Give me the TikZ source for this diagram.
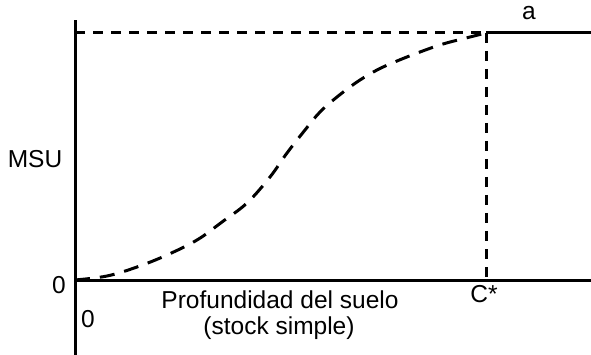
\documentclass[tikz,border=0pt]{standalone}
\usepackage{fontspec}
\setmainfont{Liberation Sans}
\usetikzlibrary{positioning}

\begin{document}
\begin{tikzpicture}[x=1pt, y=-1pt]
		% Definición de estilos
		\tikzstyle{eje} = [draw, line width=3pt]
		\tikzstyle{guia} = [draw, line width=3pt, dash pattern=on 10pt off 8pt]
		\tikzstyle{curva} = [draw, line width=3pt, dash pattern=on 15pt off 10pt]
		\tikzstyle{etiqueta} = [inner sep=0pt, anchor=base, font=\fontsize{24.5}{28}\selectfont]

		\useasboundingbox (0,0) rectangle (591,355);

		% Puntos
		\coordinate (origen) at (75,280);
		\coordinate (ytope) at (75,20);
		\coordinate (ybase) at (75,355);
		\coordinate (xfin) at (591,280);
		\coordinate (ymax) at (75,33);
		\coordinate (cmax) at (486,33);
		\coordinate (cpie) at (486,280);
		\coordinate (afin) at (591,33);

		% Ejes
		\path [eje] (ybase) -- (ytope);
		\path [eje] (origen) -- (xfin);

		% Lineas guia
		\path [guia] (ymax) -- (cmax);
		\path [guia] (cmax) -- (cpie);
		\path [eje] (cmax) -- (afin);

		% Curva
		\path [curva] plot [smooth, tension=0.6] coordinates {(origen) (107,276) (137,267)
			(167,255) (197,240) (222,222) (247,203) (270,177) (287,153) (305,130)
			(320,112) (337,97) (357,82) (377,70) (397,61) (420,52) (443,44) (470,37) (cmax)};

		% Etiquetas
		\node [etiqueta] (msu) at (35,168) {MSU};
		\node [etiqueta] (cero) at (59,293) {0};
		\node [etiqueta] (cerox) at (88,327) {0};
		\node [etiqueta] (prof) at (280,308) {Profundidad del suelo};
		\node [etiqueta] (stock) at (279,334) {(stock simple)};
		\node [etiqueta] (cest) at (484,302) {C*};
		\node [etiqueta] (a) at (529,20) {a};
	\end{tikzpicture}
\end{document}
